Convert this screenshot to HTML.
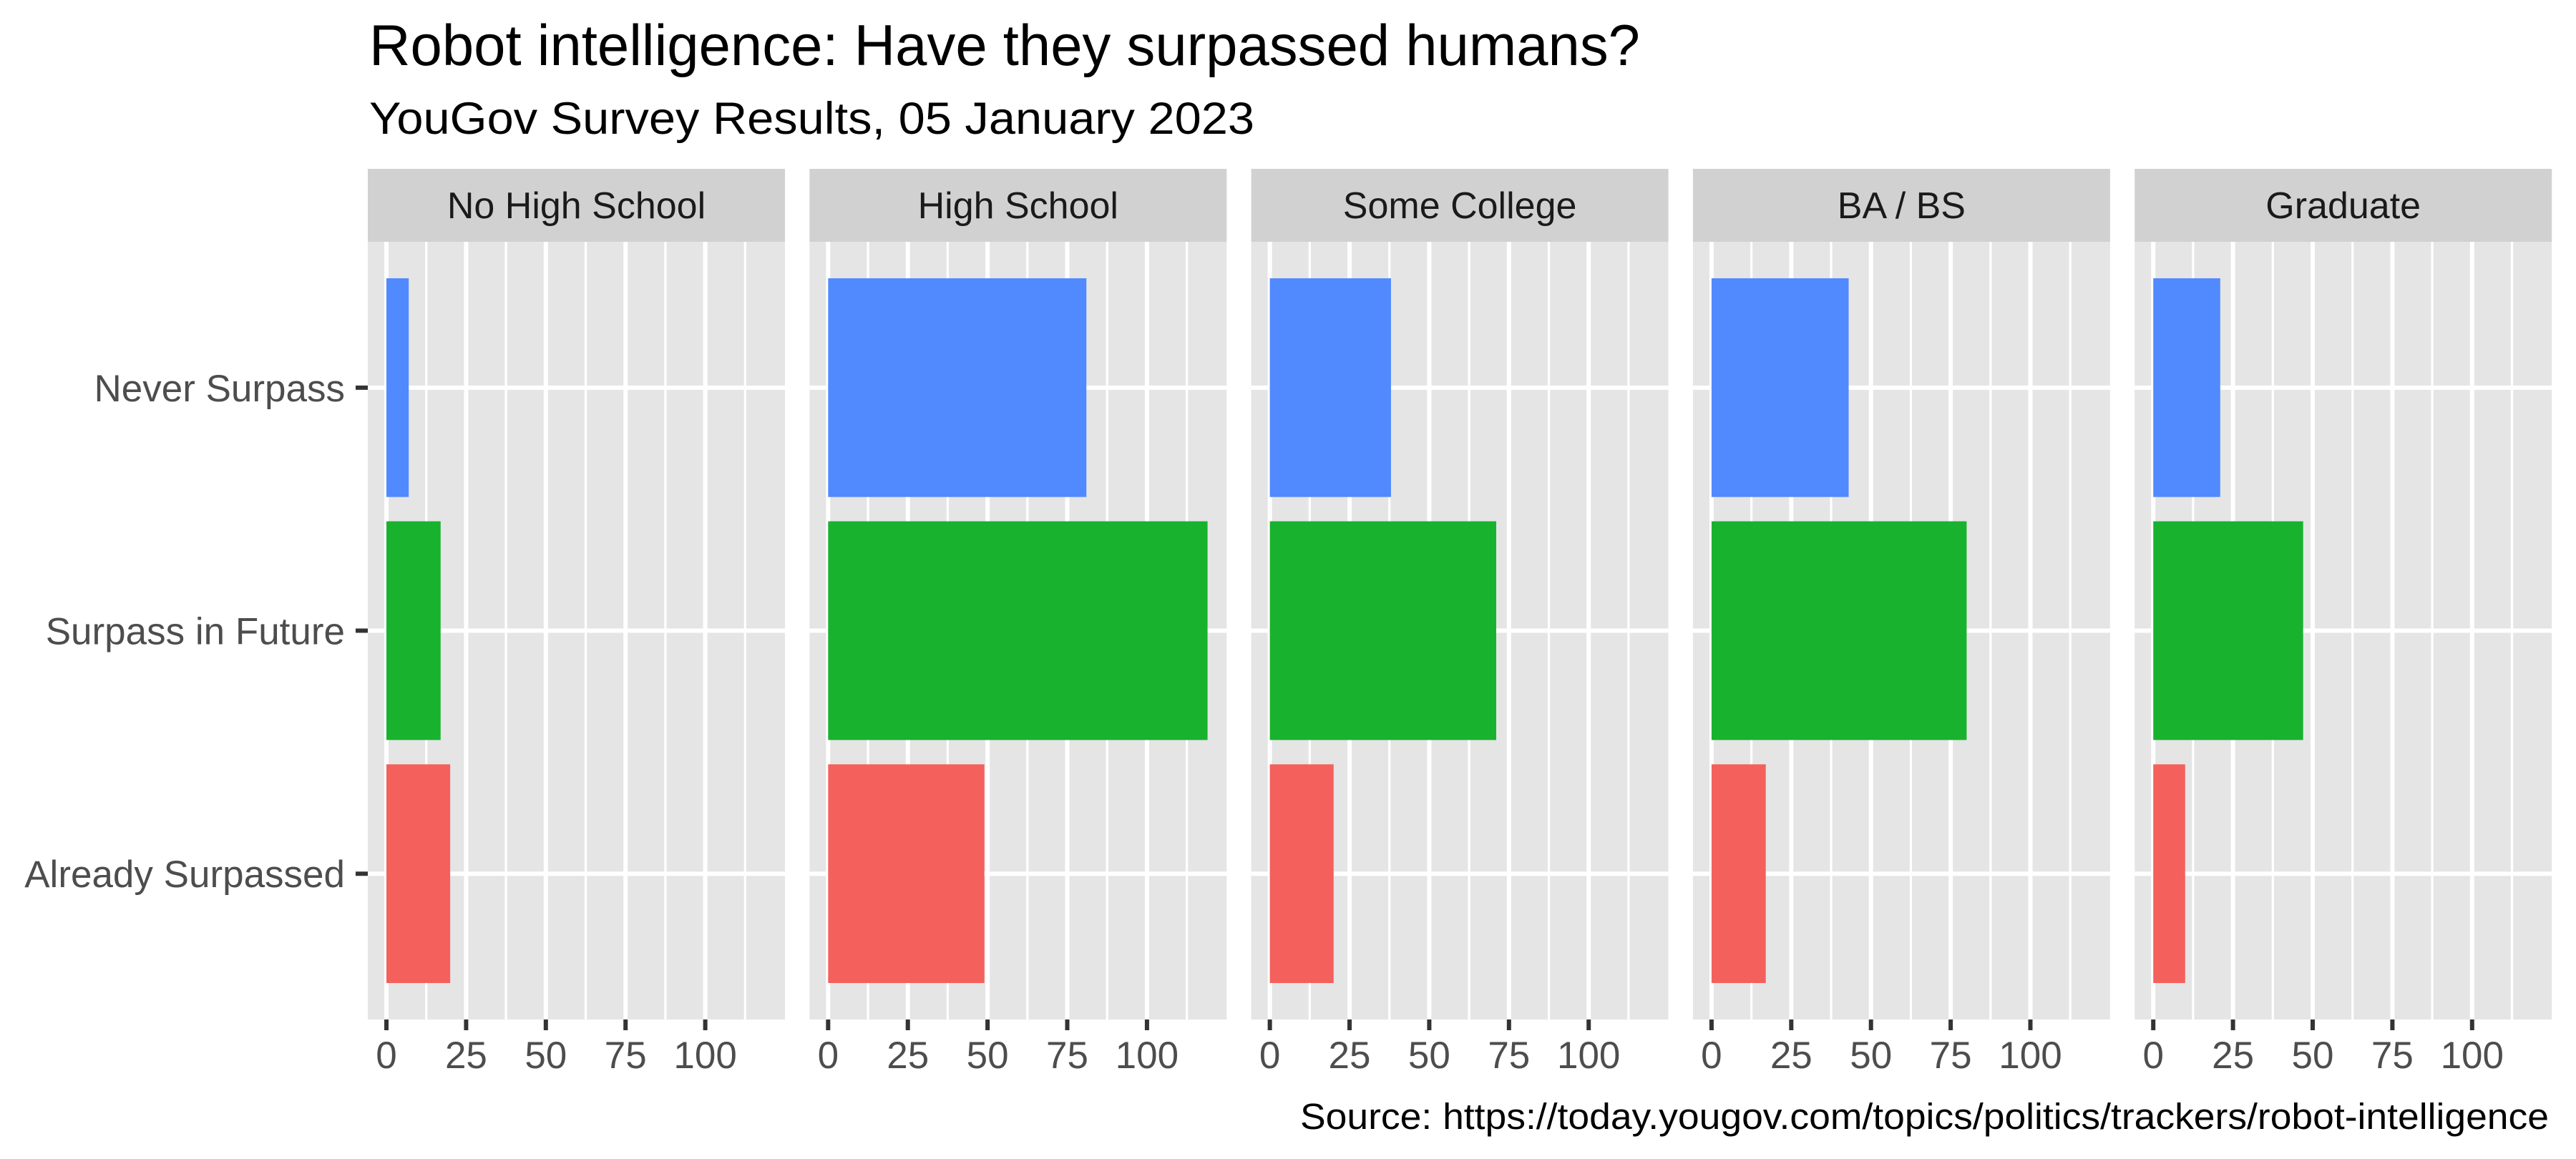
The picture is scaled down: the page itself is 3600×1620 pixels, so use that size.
<!DOCTYPE html>
<html><head><meta charset="utf-8"><style>
html,body{margin:0;padding:0;background:#fff;}
svg{display:block;font-family:"Liberation Sans",sans-serif;}
</style></head><body>
<svg id="chart" width="3600" height="1620" viewBox="0 0 3600 1620" xmlns="http://www.w3.org/2000/svg">
<rect x="0" y="0" width="3600" height="1620" fill="#ffffff"/>
<text x="516" y="91" font-size="81" fill="#000" textLength="1776" lengthAdjust="spacingAndGlyphs">Robot intelligence: Have they surpassed humans?</text>
<text x="516" y="187" font-size="63" fill="#000" textLength="1237" lengthAdjust="spacingAndGlyphs">YouGov Survey Results, 05 January 2023</text>
<text x="3562" y="1578" font-size="51" fill="#000" text-anchor="end" textLength="1745" lengthAdjust="spacingAndGlyphs">Source: https://today.yougov.com/topics/politics/trackers/robot-intelligence</text>
<g id="plots"></g>
</svg>
<script>
const facets = ["No High School", "High School", "Some College", "BA / BS", "Graduate"];
const categories = ["Never Surpass", "Surpass in Future", "Already Surpassed"];
const neverSurpass = [7, 81, 38, 43, 21];
const surpassInFuture = [17, 119, 71, 80, 47];
const alreadySurpassed = [20, 49, 20, 17, 10];
const xTicks = [0, 25, 50, 75, 100];
const xMinorTicks = [12.5, 37.5, 62.5, 87.5, 112.5];

const series = [neverSurpass, surpassInFuture, alreadySurpassed];
const colors = ["#5189FF", "#18B22F", "#F4605C"];
const NS = "http://www.w3.org/2000/svg";
const g = document.getElementById('plots');
const panelW = 583, panelStep = 617.3, panelLeft0 = 514;
const stripTop = 236, panelTop = 338, panelBottom = 1425;
const xMin = -5.84, xMax = 125;
const bandStep = (panelBottom - panelTop) / 3.2;
function xScale(p, v) { return panelLeft0 + p * panelStep + (v - xMin) / (xMax - xMin) * panelW; }
function yScale(i) { return panelTop + (0.6 + i) * bandStep; }
function mk(tag, attrs, parent) {
  const e = document.createElementNS(NS, tag);
  for (const k in attrs) e.setAttribute(k, attrs[k]);
  (parent || g).appendChild(e);
  return e;
}
facets.forEach((f, p) => {
  const pl = panelLeft0 + p * panelStep;
  const panel = mk('g', {});
  
  
  const bg = mk('rect', {x: pl, y: panelTop, width: panelW, height: panelBottom - panelTop, fill: '#E5E5E5'}, panel);
  
  
  const strip = mk('rect', {x: pl, y: stripTop, width: panelW, height: panelTop - stripTop, fill: '#D1D1D1'}, panel);
  
  
  const st = mk('text', {x: pl + panelW / 2, y: 305, 'font-size': 52, fill: '#1a1a1a', 'text-anchor': 'middle'}, panel);
  st.textContent = f;
  
  
  xMinorTicks.forEach(t => {
    const l = mk('line', {x1: xScale(p, t), x2: xScale(p, t), y1: panelTop, y2: panelBottom, stroke: '#fff', 'stroke-width': 3.2}, panel);
    
    
  });
  xTicks.forEach(t => {
    const l = mk('line', {x1: xScale(p, t), x2: xScale(p, t), y1: panelTop, y2: panelBottom, stroke: '#fff', 'stroke-width': 6}, panel);
    
    
    const tk = mk('line', {x1: xScale(p, t), x2: xScale(p, t), y1: panelBottom, y2: panelBottom + 15, stroke: '#333', 'stroke-width': 6}, panel);
    
    
    const tl = mk('text', {x: xScale(p, t), y: 1493, 'font-size': 53, fill: '#4d4d4d', 'text-anchor': 'middle'}, panel);
    tl.textContent = String(t);
    
    
  });
  categories.forEach((c, i) => {
    const l = mk('line', {x1: pl, x2: pl + panelW, y1: yScale(i), y2: yScale(i), stroke: '#fff', 'stroke-width': 6}, panel);
    
    
  });
  series.forEach((s, i) => {
    const x0 = xScale(p, 0), x1 = xScale(p, s[p]);
    const b = mk('rect', {x: x0, y: yScale(i) - bandStep * 0.45, width: x1 - x0, height: bandStep * 0.9, fill: colors[i]}, panel);
    
    
  });
});
categories.forEach((c, i) => {
  const t = mk('text', {x: 482, y: yScale(i) + 19, 'font-size': 53, fill: '#4d4d4d', 'text-anchor': 'end'});
  t.textContent = c;
  
  
  const tk = mk('line', {x1: 497, x2: 514, y1: yScale(i), y2: yScale(i), stroke: '#333', 'stroke-width': 6});
  
  
});
</script>
</body></html>
